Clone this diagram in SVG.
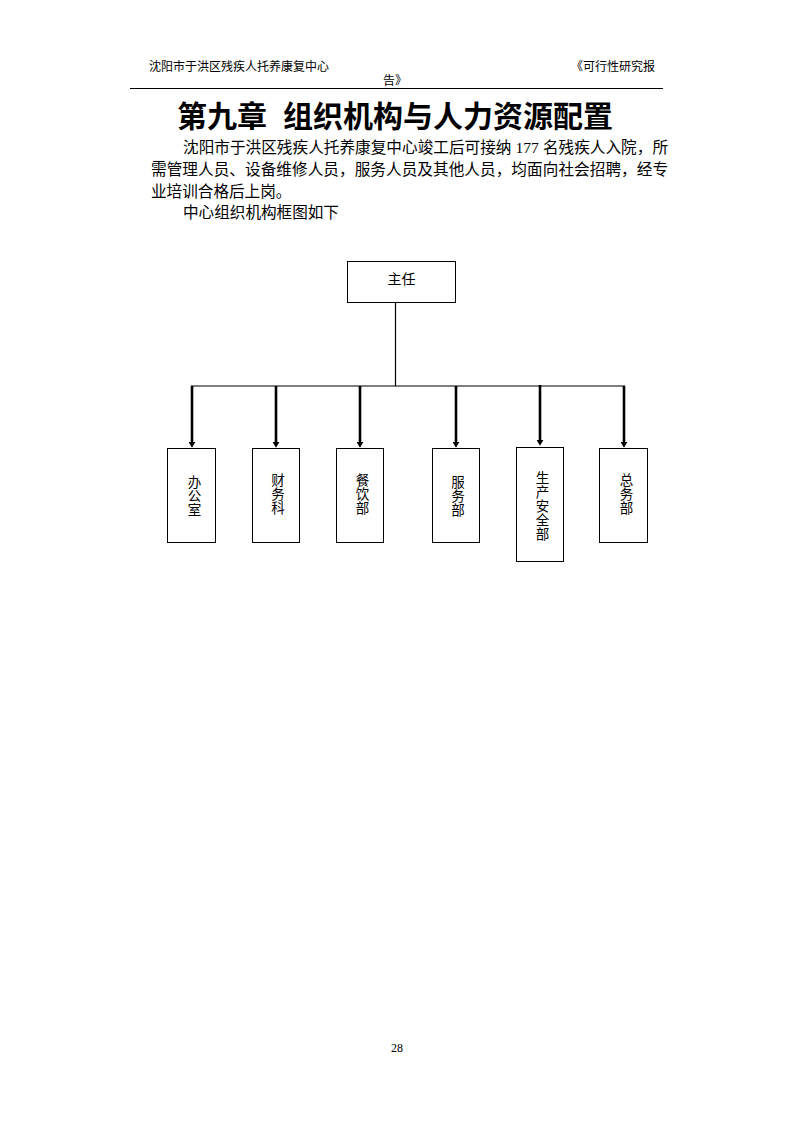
<svg xmlns="http://www.w3.org/2000/svg" width="794" height="1123" viewBox="0 0 794 1123">
<style>
.hdr{font-family:"Noto Sans CJK SC",sans-serif;font-size:12px;fill:#000}
.title{font-family:"Liberation Serif","Noto Sans CJK SC",serif;font-size:30px;font-weight:bold;fill:#000}
.body{font-family:"Liberation Serif","Noto Sans CJK SC",serif;font-size:15.6px;fill:#000}
.box{fill:#fff;stroke:#000;stroke-width:1}
.lbl{font-family:"Noto Sans CJK SC",sans-serif;font-size:14px;fill:#000;text-anchor:middle}
.vl{font-family:"Noto Sans CJK SC",sans-serif;font-size:13.5px;fill:#000;writing-mode:vertical-rl;letter-spacing:0.5px}
.thin{stroke:#000;stroke-width:1.2;fill:none}
.arr{stroke:#000;stroke-width:2.6;fill:none}
.pg{font-family:"Liberation Serif",serif;font-size:12px;fill:#000;text-anchor:middle}
</style>
<defs>
<marker id="ah" markerUnits="userSpaceOnUse" markerWidth="6" markerHeight="7" refX="1" refY="3" orient="auto" viewBox="0 0 5 6">
<path d="M0,0 L5,3 L0,6 Z" fill="#000"/>
</marker>
</defs>
<rect width="794" height="1123" fill="#fff"/>
<g id="header">
<text class="hdr" x="149" y="71">沈阳市于洪区残疾人托养康复中心</text>
<text class="hdr" x="655" y="71" text-anchor="end">《可行性研究报</text>
<text class="hdr" x="383" y="85">告》</text>
<line x1="130" y1="88.5" x2="663" y2="88.5" stroke="#000" stroke-width="1"/>
</g>
<g id="title">
<text class="title" x="177" y="127">第九章</text>
<text class="title" x="283" y="127">组织机构与人力资源配置</text>
</g>
<g id="paragraph">
<text class="body" x="183" y="153" textLength="485" lengthAdjust="spacing">沈阳市于洪区残疾人托养康复中心竣工后可接纳 177 名残疾人入院，所</text>
<text class="body" x="151" y="175" textLength="517" lengthAdjust="spacing">需管理人员、设备维修人员，服务人员及其他人员，均面向社会招聘，经专</text>
<text class="body" x="151" y="197">业培训合格后上岗。</text>
<text class="body" x="183" y="218">中心组织机构框图如下</text>
</g>
<g id="connectors">
<line class="thin" x1="395.5" y1="302" x2="395.5" y2="386"/>
<line class="thin" x1="191" y1="386" x2="625" y2="386"/>
<line class="arr" x1="192" y1="386" x2="192" y2="443" marker-end="url(#ah)"/>
<line class="arr" x1="276" y1="386" x2="276" y2="443" marker-end="url(#ah)"/>
<line class="arr" x1="360" y1="386" x2="360" y2="443" marker-end="url(#ah)"/>
<line class="arr" x1="456" y1="386" x2="456" y2="443" marker-end="url(#ah)"/>
<line class="arr" x1="540" y1="385" x2="540" y2="441" marker-end="url(#ah)"/>
<line class="arr" x1="624" y1="386" x2="624" y2="443" marker-end="url(#ah)"/>
</g>
<g id="node-zhuren">
<rect class="box" x="347.5" y="261.5" width="108" height="41"/>
<text class="lbl" x="401.5" y="284">主任</text>
</g>
<g id="node-bangongshi">
<rect class="box" x="167.5" y="448.5" width="48" height="94"/>
<text class="vl" x="194.5" y="475">办公室</text>
</g>
<g id="node-caiwuke">
<rect class="box" x="252.5" y="448.5" width="47" height="94"/>
<text class="vl" x="278" y="473">财务科</text>
</g>
<g id="node-canyinbu">
<rect class="box" x="336.5" y="448.5" width="47" height="94"/>
<text class="vl" x="362.5" y="473">餐饮部</text>
</g>
<g id="node-fuwubu">
<rect class="box" x="432.5" y="448.5" width="47" height="94"/>
<text class="vl" x="458" y="475">服务部</text>
</g>
<g id="node-shengchananquanbu">
<rect class="box" x="516.5" y="447.5" width="47" height="114"/>
<text class="vl" x="542.5" y="471">生产安全部</text>
</g>
<g id="node-zongwubu">
<rect class="box" x="599.5" y="448.5" width="48" height="94"/>
<text class="vl" x="626.5" y="473">总务部</text>
</g>
<g id="footer">
<text class="pg" x="397" y="1052">28</text>
</g>
</svg>
